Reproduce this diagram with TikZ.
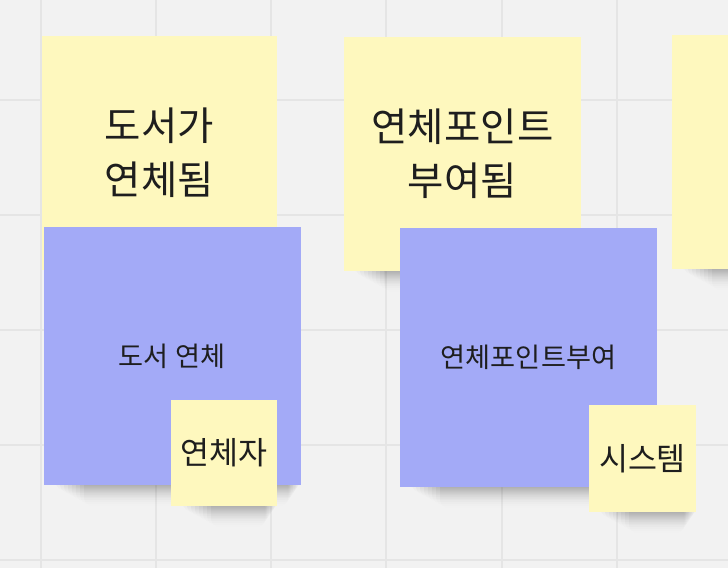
\documentclass[tikz,border=0pt]{standalone}
\usepackage{fontspec}
\setmainfont{Noto Sans CJK KR}
\usetikzlibrary{fadings}
\definecolor{bgc}{HTML}{F2F2F2}
\definecolor{gridc}{HTML}{E5E5E5}
\definecolor{yellowc}{HTML}{FEF8BE}
\definecolor{bluec}{HTML}{A3AAF7}
\definecolor{txtc}{HTML}{1E1E1E}
\newcommand\stickyshadow[3]{%
  \foreach \i in {0,...,7}{%
    \fill[black, opacity=0.06, path fading=south, rounded corners=9]
      ({#1+12+4*\i},{#3-8}) rectangle ({#2-1-1.5*\i},{#3+6+2.2*\i});
  }}
\tikzset{
  note/.style={draw=none, inner sep=0pt, align=center, text=txtc},
  ynote/.style={note, fill=yellowc},
  bnote/.style={note, fill=bluec},
  bigtxt/.style={font=\fontsize{39.5}{54}\selectfont},
  midtxt/.style={font=\fontsize{27.2}{32}\selectfont},
  smalltxt/.style={font=\fontsize{31.5}{36}\selectfont},
}
\begin{document}
\begin{tikzpicture}[x=1pt,y=-1pt]
\useasboundingbox (0,0) rectangle (728,568);
\clip (0,0) rectangle (728,568);
\fill[bgc] (0,0) rectangle (728,568);
% grid
\foreach \gx in {41,156,271,386,502,617}{\draw[gridc, line width=1.6pt] (\gx,0) -- (\gx,568);}
\foreach \gy in {100,215,330,445,560}{\draw[gridc, line width=1.6pt] (0,\gy) -- (728,\gy);}
% big yellow notes
\stickyshadow{42}{277}{270}
\node[ynote, bigtxt, minimum width=235pt, minimum height=234pt] (ev1) at (159.5,153) {도서가\\연체됨};
\stickyshadow{344}{581}{271}
\node[ynote, bigtxt, minimum width=237pt, minimum height=234pt] (ev2) at (462.5,154) {연체포인트\\부여됨};
\stickyshadow{672}{908}{269}
\node[ynote, minimum width=236pt, minimum height=234pt] (ev3) at (790,152) {};
% blue notes
\stickyshadow{44}{300}{485}
\node[bnote, midtxt, minimum width=257pt, minimum height=258pt] (cmd1) at (172,356) {도서 연체};
\stickyshadow{400}{657}{487}
\node[bnote, midtxt, minimum width=257pt, minimum height=259pt] (cmd2) at (528.5,357.5) {연체포인트부여};
% small yellow notes
\stickyshadow{171}{277}{506}
\node[ynote, smalltxt, minimum width=106pt, minimum height=106pt] (act1) at (224,453) {연체자};
\stickyshadow{589}{696}{512}
\node[ynote, smalltxt, minimum width=107pt, minimum height=107pt] (act2) at (642.5,458.5) {시스템};
\end{tikzpicture}
\end{document}
